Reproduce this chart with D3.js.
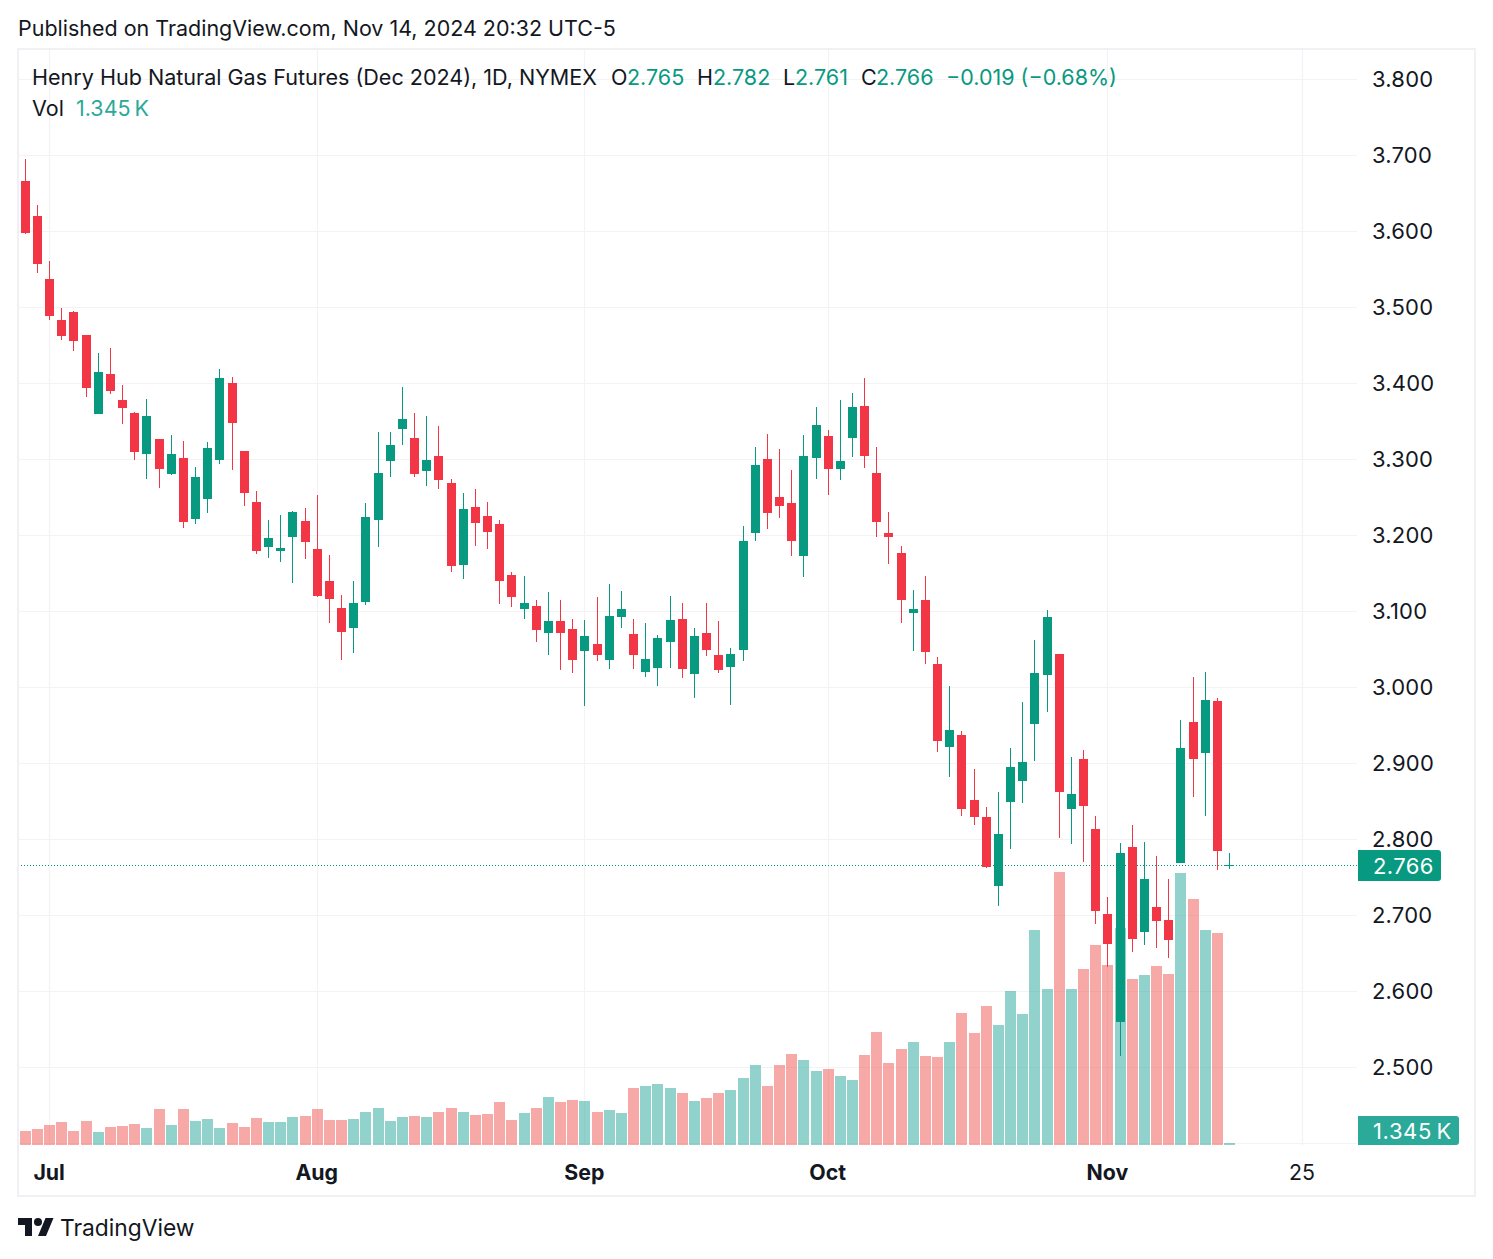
<!DOCTYPE html>
<html>
<head>
<meta charset="utf-8">
<style>
html,body{margin:0;padding:0;background:#fff;}
svg{display:block;}
text{font-family:Inter,"Noto Sans",sans-serif;}
</style>
<script src="https://cdn.jsdelivr.net/npm/d3@7"></script>
</head>
<body>
<svg id="c" width="1493" height="1259"></svg>
<script>
const opens=[3.666,3.620,3.537,3.483,3.494,3.464,3.360,3.412,3.378,3.361,3.307,3.327,3.281,3.302,3.221,3.248,3.299,3.400,3.311,3.244,3.185,3.179,3.198,3.219,3.182,3.140,
3.104,3.078,3.112,3.220,3.298,3.340,3.328,3.285,3.304,3.269,3.161,3.237,3.225,3.215,3.148,3.103,3.107,3.071,3.087,3.077,3.048,3.057,3.036,3.093,3.070,3.020,
3.025,3.060,3.090,3.018,3.071,3.043,3.027,3.049,3.203,3.300,3.250,3.243,3.173,3.302,3.331,3.287,3.328,3.370,3.282,3.203,3.177,3.098,3.115,
3.031,2.921,2.937,2.852,2.829,2.739,2.849,2.877,2.952,3.016,3.044,2.840,2.906,2.814,2.702,2.560,2.790,2.678,2.711,2.694,2.769,2.954,2.914,2.982,2.765];
const highs=[3.695,3.635,3.561,3.499,3.495,3.464,3.440,3.446,3.398,3.362,3.379,3.327,3.332,3.324,3.290,3.323,3.419,3.408,3.311,3.258,3.220,3.227,3.232,3.236,3.253,3.174,
3.121,3.140,3.243,3.336,3.336,3.395,3.361,3.357,3.344,3.274,3.256,3.261,3.244,3.220,3.152,3.146,3.115,3.125,3.115,3.090,3.089,3.119,3.136,3.127,3.090,3.085,
3.069,3.120,3.111,3.078,3.111,3.087,3.052,3.212,3.316,3.333,3.314,3.286,3.332,3.369,3.339,3.378,3.387,3.407,3.316,3.231,3.186,3.128,3.146,
3.040,3.002,2.943,2.893,2.843,2.862,2.920,2.981,3.062,3.102,3.044,2.908,2.918,2.831,2.724,2.795,2.819,2.796,2.778,2.748,2.957,3.014,3.020,2.986,2.782];
const lows=[3.596,3.545,3.483,3.457,3.443,3.382,3.360,3.386,3.346,3.299,3.274,3.262,3.279,3.210,3.215,3.229,3.294,3.286,3.239,3.175,3.170,3.165,3.137,3.169,3.119,3.085,
3.036,3.045,3.108,3.185,3.277,3.319,3.277,3.265,3.261,3.152,3.143,3.186,3.182,3.110,3.106,3.090,3.060,3.043,3.023,3.019,2.975,3.034,3.024,3.078,3.024,3.014,
3.002,3.025,3.012,2.986,3.041,3.019,2.977,3.035,3.193,3.208,3.223,3.173,3.145,3.274,3.253,3.273,3.303,3.289,3.198,3.162,3.085,3.048,3.031,
2.915,2.882,2.831,2.819,2.762,2.712,2.787,2.848,2.903,2.968,2.802,2.794,2.770,2.689,2.632,2.515,2.652,2.661,2.657,2.644,2.769,2.856,2.831,2.760,2.761];
const closes=[3.598,3.557,3.489,3.462,3.456,3.394,3.415,3.390,3.368,3.310,3.357,3.287,3.307,3.218,3.277,3.315,3.407,3.348,3.256,3.179,3.196,3.183,3.231,3.191,3.120,3.116,
3.073,3.111,3.224,3.282,3.319,3.353,3.281,3.299,3.273,3.160,3.235,3.216,3.204,3.140,3.119,3.111,3.075,3.087,3.071,3.036,3.068,3.043,3.094,3.103,3.043,3.037,
3.065,3.089,3.024,3.068,3.049,3.023,3.044,3.193,3.293,3.229,3.239,3.193,3.304,3.345,3.287,3.298,3.369,3.304,3.218,3.198,3.115,3.103,3.046,
2.929,2.944,2.840,2.829,2.764,2.807,2.895,2.902,3.019,3.093,2.862,2.860,2.844,2.706,2.662,2.782,2.669,2.748,2.693,2.668,2.920,2.906,2.983,2.785,2.766];
const volumes=[9.4,10.8,13.5,15.5,9.4,16.1,8.7,12.1,12.8,14.1,11.4,24.2,13.5,24.2,16.1,17.5,11.4,14.8,12.1,18.2,15.5,15.5,18.8,19.5,24.2,16.8,16.8,17.5,22.2,24.9,16.1,18.8,19.5,18.8,22.2,24.9,22.2,20.2,
20.9,28.9,16.8,21.5,24.9,32.3,28.9,30.3,29.6,22.2,23.5,21.5,38.3,39.7,41.0,38.3,35.0,29.6,31.6,35.0,37.0,45.1,53.8,39.7,53.8,61.2,57.2,49.8,51.1,46.4,43.7,60.5,76.0,55.2,64.6,69.3,59.9,
59.2,69.3,88.8,75.3,93.5,80.7,103.6,88.1,144.6,104.9,183.6,104.9,118.4,134.5,121.1,146.0,111.7,114.3,120.4,115.0,182.9,165.5,144.6,142.6,1.345];
const priceTicks=[3.8,3.7,3.6,3.5,3.4,3.3,3.2,3.1,3.0,2.9,2.8,2.7,2.6,2.5];
const timeTickIndex=[2,24,46,66,89,105];
const timeTickLabels=["Jul","Aug","Sep","Oct","Nov","25"];
const lastPrice=2.766, lastPriceLabel="2.766", lastVolumeLabel="1.345\u2009K";
const ohlcLegend=[["O","2.765"],["H","2.782"],["L","2.761"],["C","2.766"]];

const UP="#089981",DOWN="#f23645",INK="#131722",GRID="#f3f3f6",VUP="#26a69a",VDOWN="#ef5350";
const svg=d3.select("#c");
const idx=d3.range(opens.length);
const x=d3.scaleLinear().domain([0,99]).range([25.3,1229.6]);
const y=d3.scaleLinear().domain([3.7,2.5]).range([155.3,1067.3]);
const v=d3.scaleLinear().domain([0,183.6]).range([1145,872]);
const up=i=>closes[i]>=opens[i];
const color=i=>up(i)?UP:DOWN;
const pX=1357, L=18;
const px=i=>Math.floor(x(i));

// grid + axes
const gy=svg.append("g").attr("transform",`translate(${pX},0)`).call(
  d3.axisRight(y).tickValues(priceTicks).tickSize(0).tickPadding(15).tickFormat(d3.format(".3f")));
gy.select(".domain").remove();
gy.selectAll("text").attr("font-size",22).attr("fill",INK).attr("letter-spacing",0.2);
svg.insert("g",":first-child").selectAll("line").data(priceTicks.slice(0)).join("line")
  .attr("x1",L).attr("x2",pX).attr("y1",d=>Math.round(y(d))+.5).attr("y2",d=>Math.round(y(d))+.5)
  .attr("stroke",GRID).attr("stroke-width",1.2);
svg.insert("g",":first-child").selectAll("line").data(timeTickIndex).join("line")
  .attr("x1",d=>Math.floor(x(d))+.5).attr("x2",d=>Math.floor(x(d))+.5).attr("y1",49).attr("y2",1145)
  .attr("stroke",GRID).attr("stroke-width",1.2);
svg.append("line").attr("x1",L).attr("x2",pX).attr("y1",1143.5).attr("y2",1143.5).attr("stroke",GRID).attr("stroke-width",1.2);

const gx=svg.append("g").attr("transform","translate(-1,1145)").call(
  d3.axisBottom(x).tickValues(timeTickIndex).tickSize(0).tickPadding(19.5)
    .tickFormat((d,i)=>timeTickLabels[i]));
gx.select(".domain").remove();
gx.selectAll("text").attr("font-size",21.3).attr("fill",INK)
  .attr("font-weight",(d,i)=>timeTickLabels[i]==="25"?400:700);

// volume
svg.append("g").selectAll("rect").data(idx).join("rect")
  .attr("x",i=>px(i)-5).attr("width",11)
  .attr("y",i=>Math.round(v(volumes[i]))).attr("height",i=>1145-Math.round(v(volumes[i])))
  .attr("fill",i=>up(i)?VUP:VDOWN).attr("fill-opacity",.5);

// last price line
svg.append("line").attr("x1",L).attr("x2",pX).attr("y1",Math.round(y(lastPrice))+.5).attr("y2",Math.round(y(lastPrice))+.5)
  .attr("stroke",UP).attr("stroke-width",1).attr("stroke-dasharray","1 2");

// candles
const c=svg.append("g");
c.selectAll("line").data(idx).join("line")
  .attr("x1",i=>px(i)+.5).attr("x2",i=>px(i)+.5)
  .attr("y1",i=>Math.round(y(highs[i]))).attr("y2",i=>Math.round(y(lows[i])))
  .attr("stroke",color).attr("stroke-width",1);
c.selectAll("rect").data(idx).join("rect")
  .attr("x",i=>px(i)-4).attr("width",9)
  .attr("y",i=>Math.round(y(Math.max(opens[i],closes[i]))))
  .attr("height",i=>Math.max(1,Math.round(y(Math.min(opens[i],closes[i])))-Math.round(y(Math.max(opens[i],closes[i])))))
  .attr("fill",color);

// price tags
const tag=(x0,x1,y0,y1,fill)=>svg.append("path")
  .attr("d",`M${x0},${y0}H${x1-3}Q${x1},${y0} ${x1},${y0+3}V${y1-3}Q${x1},${y1} ${x1-3},${y1}H${x0}Z`).attr("fill",fill);
tag(1358,1441,850,881,UP);
svg.append("text").attr("x",1373).attr("y",873.5).attr("font-size",22).attr("fill","#fff").attr("letter-spacing",.4).text(lastPriceLabel);
tag(1358,1459,1116,1145,"#2ba999");
svg.append("text").attr("x",1373).attr("y",1138.5).attr("font-size",22).attr("fill","#fff").attr("letter-spacing",.6).text(lastVolumeLabel);

// border
svg.append("rect").attr("x",18).attr("y",49).attr("width",1457).attr("height",1147)
  .attr("fill","none").attr("stroke","#f0f0f5").attr("stroke-width",2);

// header
svg.append("text").attr("x",18).attr("y",36).attr("font-size",21.47).attr("fill",INK)
  .text("Published on TradingView.com, Nov 14, 2024 20:32 UTC-5");
svg.append("text").attr("x",32).attr("y",85).attr("font-size",21.55).attr("fill",INK)
  .text("Henry Hub Natural Gas Futures (Dec 2024), 1D, NYMEX");
const legendX=[[611,627],[697,713],[783,795],[861,876]];
ohlcLegend.forEach(([k,val],i)=>{
  svg.append("text").attr("x",legendX[i][0]).attr("y",85).attr("font-size",21.5).attr("fill",INK).text(k);
  svg.append("text").attr("x",legendX[i][1]).attr("y",85).attr("font-size",21.5).attr("fill",UP).text(val);
});
svg.append("text").attr("x",946).attr("y",85).attr("font-size",21.5).attr("fill",UP).text("\u22120.019 (\u22120.68%)");
svg.append("text").attr("x",32).attr("y",116).attr("font-size",21.5).attr("fill",INK).text("Vol");
svg.append("text").attr("x",76).attr("y",116).attr("font-size",21.5).attr("fill","#2ba999").text(lastVolumeLabel);

// footer logo
const logo=svg.append("g").attr("transform","translate(18,1214)").attr("fill",INK);
logo.append("path").attr("d","M14 22H7V11H0V4h14v18zM28 22h-8l7.5-18h8L28 22z");
logo.append("circle").attr("cx",20).attr("cy",8).attr("r",4);
svg.append("text").attr("x",60).attr("y",1236).attr("font-size",22.8).attr("fill",INK).text("TradingView");
</script>
</body>
</html>
